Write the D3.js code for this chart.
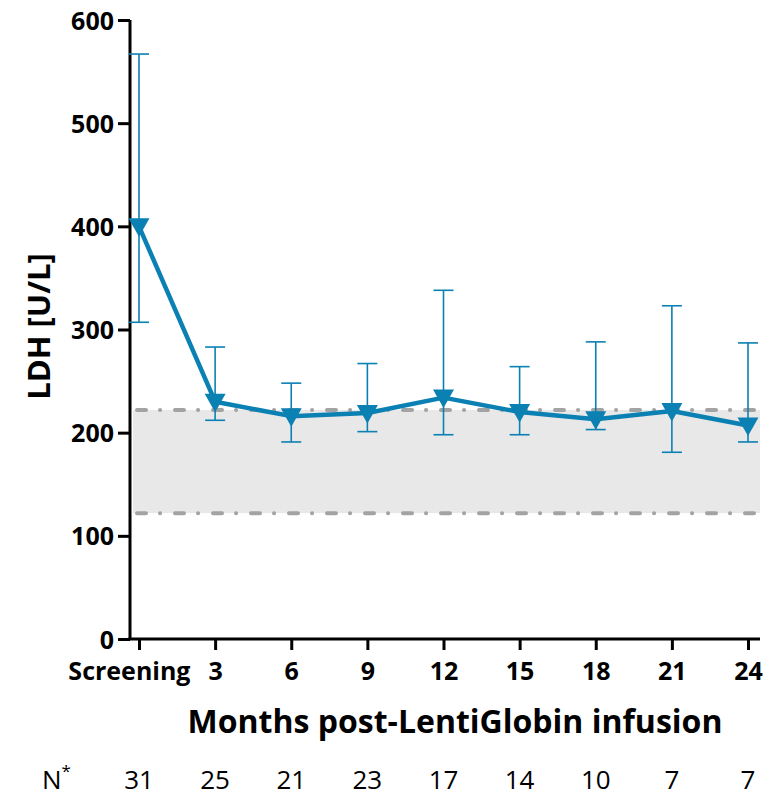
<!DOCTYPE html>
<html>
<head>
<meta charset="utf-8">
<script src="https://cdn.jsdelivr.net/npm/d3@7"></script>
<style>
  body { margin: 0; background: #fff; }
  svg { font-family: "Open Sans", "Noto Sans", sans-serif; }
</style>
</head>
<body>
<svg id="chart" width="764" height="799"></svg>
<script>
// ── Data ──────────────────────────────────────────────────────────────
var categories = ["Screening", "3", "6", "9", "12", "15", "18", "21", "24"];
var ldhMean    = [400, 230, 216, 219, 234, 220, 213, 221, 207];
var errUpper   = [567, 283, 248, 267, 338, 264, 288, 323, 287];
var errLower   = [307, 212, 191, 201, 198, 198, 203, 181, 191];
var nCounts    = [31, 25, 21, 23, 17, 14, 10, 7, 7];
var refRange   = [122, 222];
var yTicks     = [0, 100, 200, 300, 400, 500, 600];

var BLUE = "#0b80b3";
var FONT = "'Open Sans', 'Noto Sans', sans-serif";
var svg = d3.select("#chart");

var x = d3.scalePoint().domain(categories).range([139, 748]);
var y = d3.scaleLinear().domain([0, 600]).range([639, 20]);
var xLeft = 130, xRight = 760;

// ── Reference band ────────────────────────────────────────────────────
svg.append("rect")
  .attr("x", xLeft + 3).attr("width", xRight - xLeft - 3)
  .attr("y", y(refRange[1])).attr("height", y(refRange[0]) - y(refRange[1]))
  .attr("fill", "#e8e8e8");

refRange.forEach(function (v) {
  svg.append("line")
    .attr("x1", xLeft + 7).attr("x2", xRight - 2)
    .attr("y1", y(v)).attr("y2", y(v))
    .attr("stroke", "#a3a3a3")
    .attr("stroke-width", 4)
    .attr("stroke-linecap", "round")
    .attr("stroke-dasharray", "9,14,0.1,14.9");
});

// ── Axes ──────────────────────────────────────────────────────────────
var yAxis = svg.append("g")
  .attr("transform", "translate(" + xLeft + ",0)")
  .call(d3.axisLeft(y).tickValues(yTicks).tickSize(12).tickPadding(4))
  .attr("font-family", FONT);
yAxis.select(".domain").attr("stroke", "#000").attr("stroke-width", 3)
  .attr("d", "M0," + y(600) + "V" + y(0));
yAxis.selectAll(".tick line").attr("stroke-width", 3);
yAxis.selectAll(".tick text")
  .attr("font-size", "25px").attr("font-weight", "700").attr("fill", "#000")
  .attr("dy", "0.36em");

var xAxis = svg.append("g")
  .attr("transform", "translate(0," + y(0) + ")")
  .call(d3.axisBottom(x).tickSize(11).tickPadding(12))
  .attr("font-family", FONT);
xAxis.select(".domain").attr("stroke", "#000").attr("stroke-width", 3)
  .attr("d", "M" + (xLeft - 1.5) + ",0H" + xRight);
xAxis.selectAll(".tick line").attr("stroke-width", 3);
xAxis.selectAll(".tick text")
  .attr("font-size", "25px").attr("font-weight", "700").attr("fill", "#000")
  .attr("text-anchor", function (d) { return d === "Screening" ? "end" : "middle"; })
  .attr("dx", function (d) { return d === "Screening" ? 51 : 0; });

// ── Axis titles ───────────────────────────────────────────────────────
svg.append("text")
  .attr("transform", "translate(50," + y(303) + ") rotate(-90)")
  .attr("text-anchor", "middle")
  .attr("font-size", "31px").attr("font-weight", "700")
  .text("LDH [U/L]");

svg.append("text")
  .attr("x", 455).attr("y", 733)
  .attr("text-anchor", "middle")
  .attr("font-size", "32px").attr("font-weight", "700")
  .text("Months post-LentiGlobin infusion");

// ── Error bars ────────────────────────────────────────────────────────
var eb = svg.append("g").attr("stroke", BLUE).attr("stroke-width", 1.6);
categories.forEach(function (c, i) {
  var cx = x(c);
  eb.append("line").attr("x1", cx).attr("x2", cx)
    .attr("y1", y(errUpper[i])).attr("y2", y(errLower[i]));
  [errUpper[i], errLower[i]].forEach(function (v) {
    eb.append("line").attr("x1", cx - 10).attr("x2", cx + 10)
      .attr("y1", y(v)).attr("y2", y(v));
  });
});

// ── Line + markers ────────────────────────────────────────────────────
var line = d3.line()
  .x(function (d, i) { return x(categories[i]); })
  .y(function (d) { return y(d); });

svg.append("path")
  .datum(ldhMean)
  .attr("d", line)
  .attr("fill", "none")
  .attr("stroke", BLUE)
  .attr("stroke-width", 4.5)
  .attr("stroke-linejoin", "round");

svg.append("g").selectAll("path")
  .data(ldhMean)
  .join("path")
  .attr("transform", function (d, i) { return "translate(" + x(categories[i]) + "," + y(d) + ")"; })
  .attr("d", "M-10.5,-8L10.5,-8L0,10.5Z")
  .attr("fill", BLUE);

// ── N row ─────────────────────────────────────────────────────────────
var nRow = svg.append("g").attr("font-size", "26px").attr("fill", "#000");
var nLabel = nRow.append("text").attr("x", 42).attr("y", 789);
nLabel.append("tspan").text("N");
nLabel.append("tspan").attr("dy", -12).attr("font-size", "17px").text("*");

nRow.selectAll("text.n")
  .data(nCounts)
  .join("text")
  .attr("class", "n")
  .attr("x", function (d, i) { return x(categories[i]); })
  .attr("y", 789)
  .attr("text-anchor", "middle")
  .text(function (d) { return d; });
</script>
</body>
</html>
